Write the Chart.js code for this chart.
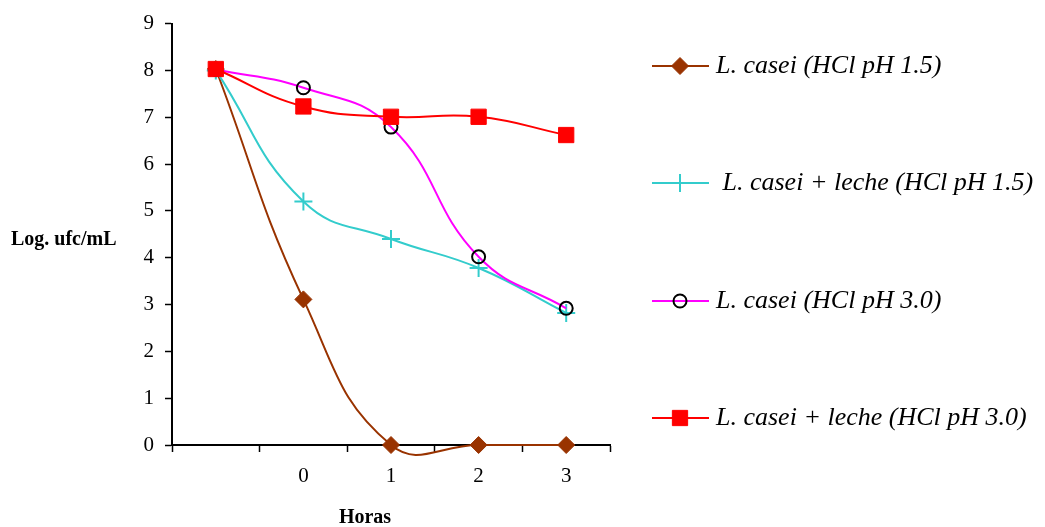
<!DOCTYPE html>
<html>
<head>
<meta charset="utf-8">
<script src="https://cdn.jsdelivr.net/npm/chart.js@4/dist/chart.umd.min.js"></script>
<style>
  html, body { margin: 0; padding: 0; background: #fff; }
  #c { display: block; }
</style>
</head>
<body>
<canvas id="c" width="1045" height="527" style="width:1045px;height:527px"></canvas>
<script>
// Datos
const horas = ['', '0', '1', '2', '3'];
const caseiPh15 = [8.03, 3.11, 0, 0, 0];
const lechePh15 = [8.0, 5.2, 4.4, 3.78, 2.82];
const caseiPh30 = [8.02, 7.63, 6.79, 4.02, 2.92];
const lechePh30 = [8.03, 7.23, 7.01, 7.01, 6.62];
const nombres = [
    'L. casei (HCl pH 1.5)',
    ' L. casei + leche (HCl pH 1.5)',
    'L. casei (HCl pH 3.0)',
    'L. casei + leche (HCl pH 3.0)'
];
const tituloY = 'Log. ufc/mL';
const tituloX = 'Horas';

const SERIF = '"Liberation Serif", "Times New Roman", serif';
Chart.defaults.font.family = SERIF;
Chart.defaults.color = '#000';

// posiciones verticales de la leyenda lateral
const legendY = [66, 183, 301, 418];

// Leyenda a la derecha + títulos de ejes horizontales
const sideLegend = {
    id: 'sideLegend',
    afterDraw(chart) {
        const ctx = chart.ctx;
        const x0 = chart.chartArea.right + 42;
        ctx.save();
        chart.data.datasets.forEach((ds, i) => {
            const y = legendY[i];
            ctx.strokeStyle = ds.borderColor;
            ctx.lineWidth = 2;
            ctx.beginPath();
            ctx.moveTo(x0, y);
            ctx.lineTo(x0 + 57, y);
            ctx.stroke();

            ctx.fillStyle = ds.pointBackgroundColor;
            ctx.strokeStyle = ds.pointBorderColor;
            ctx.lineWidth = ds.pointBorderWidth;
            Chart.helpers.drawPoint(ctx, {
                pointStyle: ds.pointStyle,
                radius: ds.pointRadius,
                rotation: 0,
                borderWidth: ds.pointBorderWidth
            }, x0 + 28, y);

            ctx.fillStyle = '#000';
            ctx.font = 'italic 26px ' + SERIF;
            ctx.textBaseline = 'middle';
            ctx.textAlign = 'left';
            ctx.fillText(ds.label, x0 + 64, y);
        });

        // títulos
        ctx.font = 'bold 20px ' + SERIF;
        ctx.fillStyle = '#000';
        ctx.textBaseline = 'middle';
        ctx.textAlign = 'left';
        ctx.fillText(tituloY, 11, 240);
        ctx.textAlign = 'center';
        ctx.fillText(tituloX, 365, 518);
        ctx.restore();
    }
};

const lineaBase = {
    fill: false,
    tension: 0.45,
    borderWidth: 2,
    clip: 20
};

new Chart(document.getElementById('c'), {
    type: 'line',
    data: {
        labels: horas,
        datasets: [
            {
                ...lineaBase,
                label: nombres[0],
                data: caseiPh15,
                borderColor: '#993300',
                pointStyle: 'rectRot',
                pointRadius: 8.5,
                pointBackgroundColor: '#993300',
                pointBorderColor: '#993300',
                pointBorderWidth: 1,
                order: 3
            },
            {
                ...lineaBase,
                label: nombres[1],
                data: lechePh15,
                borderColor: '#33CCCC',
                pointStyle: 'cross',
                pointRadius: 9,
                pointBackgroundColor: '#33CCCC',
                pointBorderColor: '#33CCCC',
                pointBorderWidth: 2,
                order: 2
            },
            {
                ...lineaBase,
                label: nombres[2],
                data: caseiPh30,
                borderColor: '#FF00FF',
                pointStyle: 'circle',
                pointRadius: 6.5,
                pointBackgroundColor: 'rgba(255,255,255,0)',
                pointBorderColor: '#000',
                pointBorderWidth: 2,
                order: 1
            },
            {
                ...lineaBase,
                label: nombres[3],
                data: lechePh30,
                borderColor: '#FF0000',
                pointStyle: 'rect',
                pointRadius: 10.8,
                pointBackgroundColor: '#FF0000',
                pointBorderColor: '#FF0000',
                pointBorderWidth: 1,
                order: 0
            }
        ]
    },
    options: {
        responsive: false,
        animation: false,
        elements: { line: { capBezierPoints: false } },
        layout: { padding: { top: 23, right: 435, left: 0, bottom: 0 } },
        plugins: {
            legend: { display: false },
            tooltip: { enabled: false }
        },
        scales: {
            x: {
                type: 'category',
                offset: true,
                grid: {
                    offset: true,
                    drawOnChartArea: false,
                    drawTicks: true,
                    tickLength: 7,
                    tickWidth: 1.5,
                    color: '#000'
                },
                border: { color: '#000', width: 2 },
                ticks: {
                    font: { size: 21 },
                    color: '#000',
                    padding: 12,
                    maxRotation: 0
                },
                afterFit(scale) { scale.height = 82; }
            },
            y: {
                min: 0,
                max: 9,
                grid: {
                    drawOnChartArea: false,
                    drawTicks: true,
                    tickLength: 7,
                    tickWidth: 1.5,
                    color: '#000'
                },
                border: { color: '#000', width: 2 },
                ticks: {
                    stepSize: 1,
                    font: { size: 21 },
                    color: '#000',
                    padding: 11
                },
                afterFit(scale) { scale.width = 172; }
            }
        }
    },
    plugins: [sideLegend]
});
</script>
</body>
</html>
